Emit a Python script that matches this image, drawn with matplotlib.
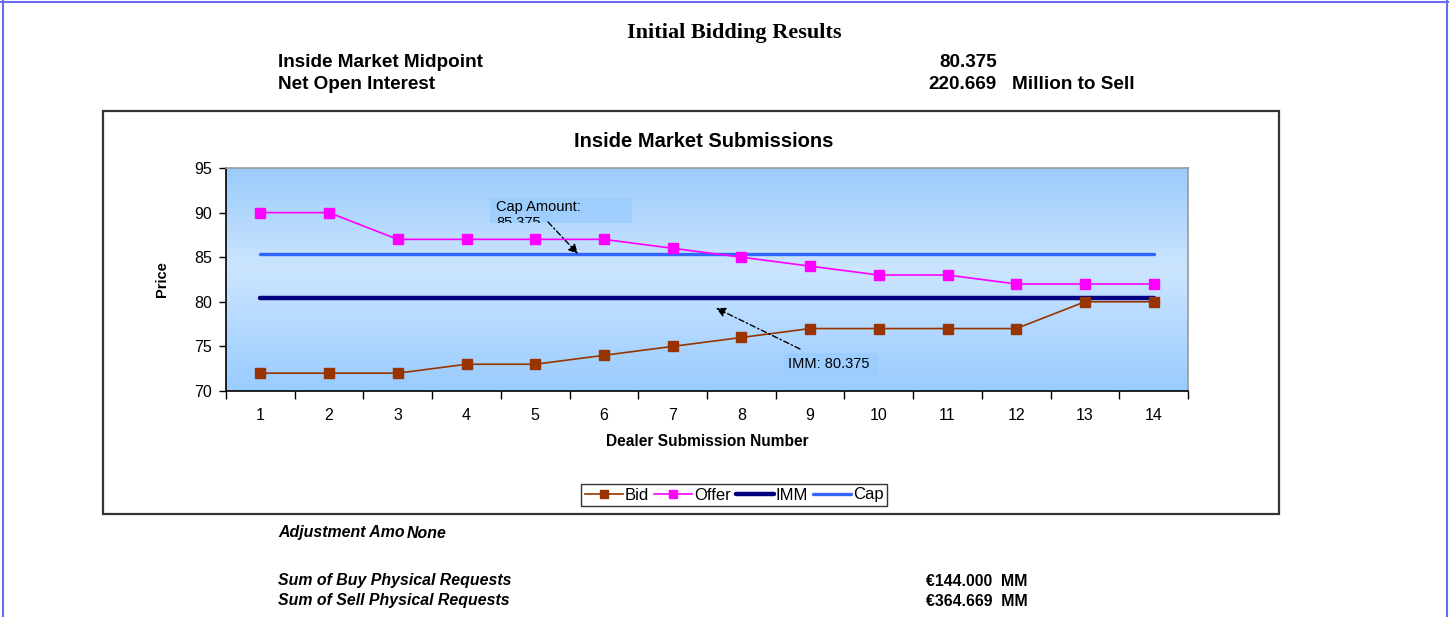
import matplotlib
matplotlib.use("Agg")
import matplotlib.pyplot as plt
import matplotlib.patches as mpatches
from matplotlib.lines import Line2D
from matplotlib.transforms import Bbox, TransformedBbox
import numpy as np
from matplotlib.colors import LinearSegmentedColormap

# ---- data ----
submissions = list(range(1, 15))
bid = [72, 72, 72, 73, 73, 74, 75, 76, 77, 77, 77, 77, 80, 80]
offer = [90, 90, 87, 87, 87, 87, 86, 85, 84, 83, 83, 82, 82, 82]
imm_value = 80.375
cap_value = 85.375
net_open_interest = 220.669
buy_requests = 144.000
sell_requests = 364.669

W, H = 1449, 617
fig = plt.figure(figsize=(W / 100, H / 100), dpi=100)
fig.patch.set_facecolor("white")

def fx(px):
    return px / W

def fy(py):
    return 1 - py / H

sans = "Liberation Sans"

# outer page border
for (x0, y0, x1, y1) in [(3, 0, 3, H), (0, 1.5, W, 1.5), (1447, 0, 1447, H)]:
    fig.add_artist(Line2D([fx(x0), fx(x1)], [fy(y0), fy(y1)], color="#6b6bf0",
                          lw=1.5, transform=fig.transFigure))

# header texts
hs = 13.6
fig.text(fx(734), fy(38), "Initial Bidding Results", family="Liberation Serif",
         weight="bold", fontsize=16, ha="center", va="baseline")
fig.text(fx(278), fy(67), "Inside Market Midpoint", family=sans, weight="bold",
         fontsize=hs, ha="left", va="baseline")
fig.text(fx(278), fy(89), "Net Open Interest", family=sans, weight="bold",
         fontsize=hs, ha="left", va="baseline")
fig.text(fx(997), fy(67), f"{imm_value:.3f}", family=sans, weight="bold",
         fontsize=hs, ha="right", va="baseline")
fig.text(fx(997), fy(89), f"{net_open_interest:.3f}", family=sans, weight="bold",
         fontsize=hs, ha="right", va="baseline")
fig.text(fx(1012), fy(89), "Million to Sell", family=sans, weight="bold",
         fontsize=hs, ha="left", va="baseline")

# footer texts
fs = 11.4
fig.text(fx(278), fy(537.5), "Adjustment Amo", family=sans, weight="bold",
         style="italic", fontsize=fs, ha="left", va="baseline")
fig.text(fx(407), fy(537.5), "None", family=sans, weight="bold",
         style="italic", fontsize=fs, ha="left", va="baseline")
fig.text(fx(278), fy(585.5), "Sum of Buy Physical Requests", family=sans, weight="bold",
         style="italic", fontsize=fs, ha="left", va="baseline")
fig.text(fx(278), fy(605.5), "Sum of Sell Physical Requests", family=sans, weight="bold",
         style="italic", fontsize=fs, ha="left", va="baseline")
fig.text(fx(926), fy(585.5), f"\u20ac{buy_requests:.3f}  MM", family=sans, weight="bold",
         fontsize=fs, ha="left", va="baseline")
fig.text(fx(926), fy(605.5), f"\u20ac{sell_requests:.3f}  MM", family=sans, weight="bold",
         fontsize=fs, ha="left", va="baseline")

# chart box
fig.add_artist(mpatches.Rectangle((fx(103), fy(514)), fx(1279) - fx(103), fy(111) - fy(514),
                                  transform=fig.transFigure, fill=False,
                                  edgecolor="#333333", lw=1.6))
fig.text(fx(704), fy(142), "Inside Market Submissions", family=sans, weight="bold",
         fontsize=14.5, ha="center", va="center")

# axes
ax = fig.add_axes([fx(226), fy(391), fx(1188) - fx(226), fy(168) - fy(391)])
ax.set_xlim(0.5, 14.5)
ax.set_ylim(70, 95)

# gradient background
cmap = LinearSegmentedColormap.from_list("bg", [(0, "#99ccff"), (0.55, "#cce5ff"), (1, "#9bcbfa")])
grad = np.linspace(0, 1, 256).reshape(-1, 1)
ax.imshow(grad, aspect="auto", cmap=cmap, origin="lower", extent=[0, 1, 0, 1],
          transform=ax.transAxes, zorder=0)

ax.plot([submissions[0], submissions[-1]], [cap_value, cap_value], color="#3366ff",
        lw=2.4, solid_capstyle="round", zorder=3, label="Cap")
ax.plot([submissions[0], submissions[-1]], [imm_value, imm_value], color="#000080",
        lw=3.2, solid_capstyle="round", zorder=3, label="IMM")
ax.plot(submissions, offer, color="#ff00ff", lw=1.2, marker="s", ms=7,
        mec="#ff00ff", zorder=4, label="Offer")
ax.plot(submissions, bid, color="#993300", lw=1.2, marker="s", ms=7,
        mec="#993300", zorder=5, label="Bid")

# ticks
ax.set_xticks(np.arange(0.5, 15.0, 1.0))
ax.set_xticklabels([])
ax.set_xticks(submissions, minor=True)
ax.set_xticklabels([str(s) for s in submissions], minor=True)
ax.tick_params(axis="x", which="major", direction="out", length=6, width=1)
ax.tick_params(axis="x", which="minor", length=0, pad=12, labelsize=11.5)
ax.set_yticks([70, 75, 80, 85, 90, 95])
ax.tick_params(axis="y", direction="out", length=5, width=1, labelsize=11.5, pad=5)
for lab in ax.get_xticklabels(minor=True) + ax.get_yticklabels():
    lab.set_family(sans)

ax.spines["left"].set_color("black")
ax.spines["bottom"].set_color("black")
ax.spines["top"].set_color("#999999")
ax.spines["right"].set_color("#999999")
for s in ax.spines.values():
    s.set_linewidth(1.2)

ax.set_xlabel("Dealer Submission Number", family=sans, weight="bold", fontsize=11.2,
              labelpad=8)
ax.set_ylabel("Price", family=sans, weight="bold", fontsize=10.5, labelpad=18)

# annotation boxes
def data_x(px):
    return 0.5 + (px - 226) / (962 / 14)

def data_y(py):
    return 70 + (391 - py) / (223 / 25)

cap_box = mpatches.Rectangle((data_x(490), data_y(223)), data_x(632) - data_x(490),
                             data_y(198) - data_y(223), facecolor="#99ccff", alpha=0.75,
                             edgecolor="none", zorder=6)
ax.add_patch(cap_box)
t = ax.text(data_x(496), data_y(200), f"Cap Amount:\n{cap_value:.3f}", family=sans,
            fontsize=10.5, ha="left", va="top", zorder=7, linespacing=1.15)
t.set_clip_path(None)
t.set_clip_box(TransformedBbox(Bbox([[data_x(490), data_y(223)], [data_x(632), data_y(198)]]),
                               ax.transData))
t.set_clip_on(True)

imm_box = mpatches.Rectangle((data_x(784), data_y(376)), data_x(878) - data_x(784),
                             data_y(353) - data_y(376), facecolor="#99ccff", alpha=0.75,
                             edgecolor="none", zorder=6)
ax.add_patch(imm_box)
ax.text(data_x(788), data_y(364.5), f"IMM: {imm_value:.3f}", family=sans,
        fontsize=10.5, ha="left", va="center", zorder=7)

arrowprops = dict(arrowstyle="-|>", color="black", lw=1, linestyle=(0, (4, 2, 1, 2)),
                  mutation_scale=14, shrinkA=0, shrinkB=0)
ax.annotate("", xy=(data_x(578), cap_value), xytext=(data_x(548), data_y(222)),
            arrowprops=arrowprops, zorder=7)
ax.annotate("", xy=(data_x(716), data_y(308)), xytext=(data_x(800), data_y(349)),
            arrowprops=arrowprops, zorder=7)

# legend
handles, labels = ax.get_legend_handles_labels()
order = [labels.index(n) for n in ["Bid", "Offer", "IMM", "Cap"]]
leg = fig.legend([handles[i] for i in order], [labels[i] for i in order],
                 loc="center", bbox_to_anchor=(fx(734), fy(495)), ncol=4,
                 prop={"family": sans, "size": 12}, frameon=True, fancybox=False,
                 edgecolor="black", handlelength=2.3, handletextpad=0.1,
                 columnspacing=0.3, borderpad=0.2, markerscale=0.85)
leg.get_frame().set_linewidth(1)

fig.savefig("out.png", dpi=100)
